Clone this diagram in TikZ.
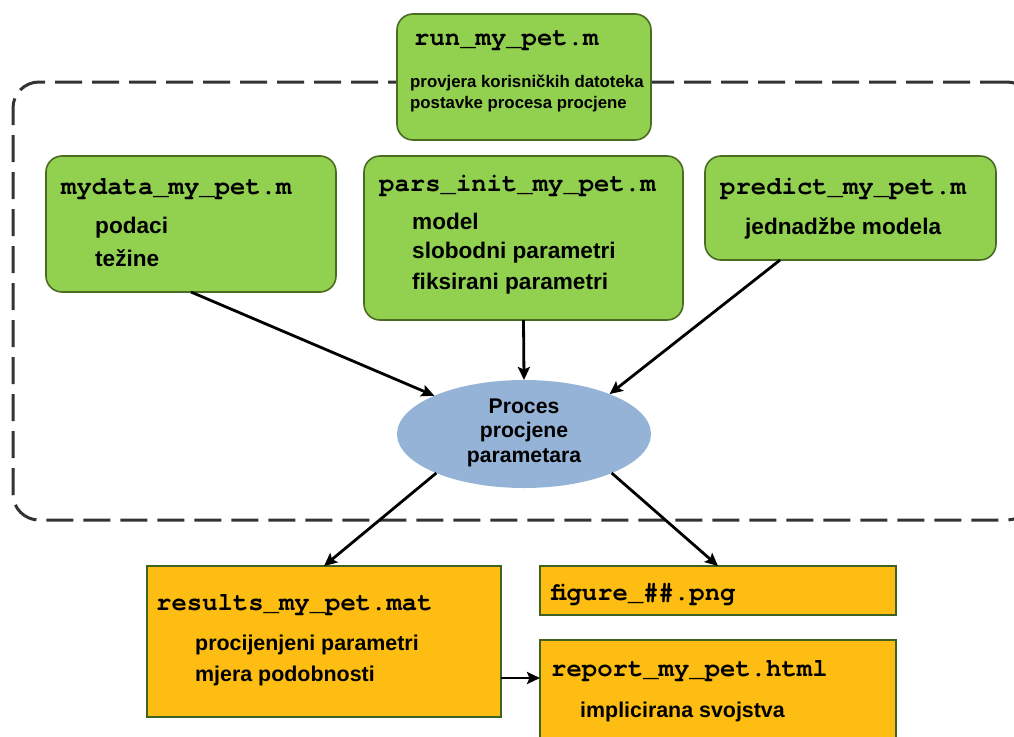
\documentclass[tikz,border=0pt]{standalone}
\usepackage{fontspec}
\setmainfont{Liberation Sans}
\newfontfamily\codefont{TeX Gyre Cursor}
\usetikzlibrary{arrows.meta,shapes.geometric,calc}

\definecolor{leafgreen}{HTML}{92D050}
\definecolor{leafedge}{HTML}{4A6B22}
\definecolor{amber}{HTML}{FDBD12}
\definecolor{amberedge}{HTML}{3E6320}
\definecolor{skyblue}{HTML}{95B3D7}
\definecolor{framegray}{HTML}{333333}

\tikzset{
  greenbox/.style={draw=leafedge, fill=leafgreen, line width=1.6pt,
    rounded corners=16pt, anchor=north west, inner sep=0pt, outer sep=0pt},
  amberbox/.style={draw=amberedge, fill=amber, line width=1.6pt,
    anchor=north west, inner sep=0pt, outer sep=0pt},
  stagebox/.style={draw=framegray, line width=3pt, rounded corners=26pt,
    dash pattern=on 27pt off 10pt, anchor=north west, inner sep=0pt, outer sep=0pt},
  procshape/.style={ellipse, fill=skyblue, inner sep=0pt, outer sep=0pt},
  codetitle/.style={anchor=base west, inner sep=0pt,
    font=\codefont\bfseries\fontsize{25.6}{30}\selectfont},
  smalltxt/.style={anchor=base west, inner sep=0pt,
    font=\bfseries\fontsize{16.8}{20}\selectfont},
  bodytxt/.style={anchor=base west, inner sep=0pt,
    font=\bfseries\fontsize{22.6}{26}\selectfont},
  lowtxt/.style={anchor=base west, inner sep=0pt,
    font=\bfseries\fontsize{21.4}{25}\selectfont},
  proctxt/.style={anchor=base, inner sep=0pt,
    font=\bfseries\fontsize{21.2}{25}\selectfont},
  arr/.style={draw=black, line width=2.8pt,
    -{Stealth[length=13pt,width=12pt,inset=2.5pt]}},
}

\begin{document}
\begin{tikzpicture}[x=1pt,y=-1pt]
\useasboundingbox (0,0) rectangle (1014,736);

% dashed frame around the estimation stage
\node[stagebox, minimum width=1020pt, minimum height=438pt] (stage) at (13,82) {};

% top-level script
\node[greenbox, minimum width=254pt, minimum height=126pt] (run) at (397,14) {};
\node[codetitle] (runT) at (414,45) {run\_my\_pet.m};
\node[smalltxt] (runA) at (410,87) {provjera korisničkih datoteka};
\node[smalltxt] (runB) at (410,108) {postavke procesa procjene};

% user files
\node[greenbox, minimum width=290pt, minimum height=136pt] (mydata) at (46,156) {};
\node[codetitle] (mydataT) at (61,194) {mydata\_my\_pet.m};
\node[bodytxt] (mydataA) at (95,233) {podaci};
\node[bodytxt] (mydataB) at (95,266) {težine};

\node[greenbox, minimum width=319pt, minimum height=164pt] (pars) at (364,156) {};
\node[codetitle] (parsT) at (379,191) {pars\_init\_my\_pet.m};
\node[bodytxt] (parsA) at (412,229) {model};
\node[bodytxt] (parsB) at (412,258) {slobodni parametri};
\node[bodytxt] (parsC) at (412,289) {fiksirani parametri};

\node[greenbox, minimum width=291pt, minimum height=104pt] (predict) at (705,156) {};
\node[codetitle] (predictT) at (720,194) {predict\_my\_pet.m};
\node[bodytxt] (predictA) at (745,234) {jednadžbe modela};

% estimation process
\node[procshape, minimum width=254pt, minimum height=108pt] (proc) at (524,434) {};
\node[proctxt] (procA) at (524,413) {Proces};
\node[proctxt] (procB) at (524,437) {procjene};
\node[proctxt] (procC) at (524,462) {parametara};

% outputs
\node[amberbox, minimum width=354pt, minimum height=151pt] (results) at (147,566) {};
\node[codetitle] (resultsT) at (156,610) {results\_my\_pet.mat};
\node[lowtxt] (resultsA) at (195,650) {procijenjeni parametri};
\node[lowtxt] (resultsB) at (195,681) {mjera podobnosti};

\node[amberbox, minimum width=356pt, minimum height=49pt] (figure) at (540,566) {};
\node[codetitle] (figureT) at (551,600) {figure\_\#\#.png};

\node[amberbox, minimum width=356pt, minimum height=112pt] (report) at (540,640) {};
\node[codetitle] (reportT) at (551,676) {report\_my\_pet.html};
\node[lowtxt] (reportA) at (580,717) {implicirana svojstva};

% connectors
\draw[arr] (mydata.south) -- (proc);
\draw[arr] (pars.south) -- (proc.north);
\draw[arr] ($(predict.south west)!0.258!(predict.south east)$) -- (proc.25);
\draw[arr] (proc.204) -- (results.north);
\draw[arr] (proc.336) -- (figure.north);
\draw[arr] ([yshift=-36.5pt]results.east) coordinate (resOut) -- (resOut -| report.west);
\end{tikzpicture}
\end{document}
